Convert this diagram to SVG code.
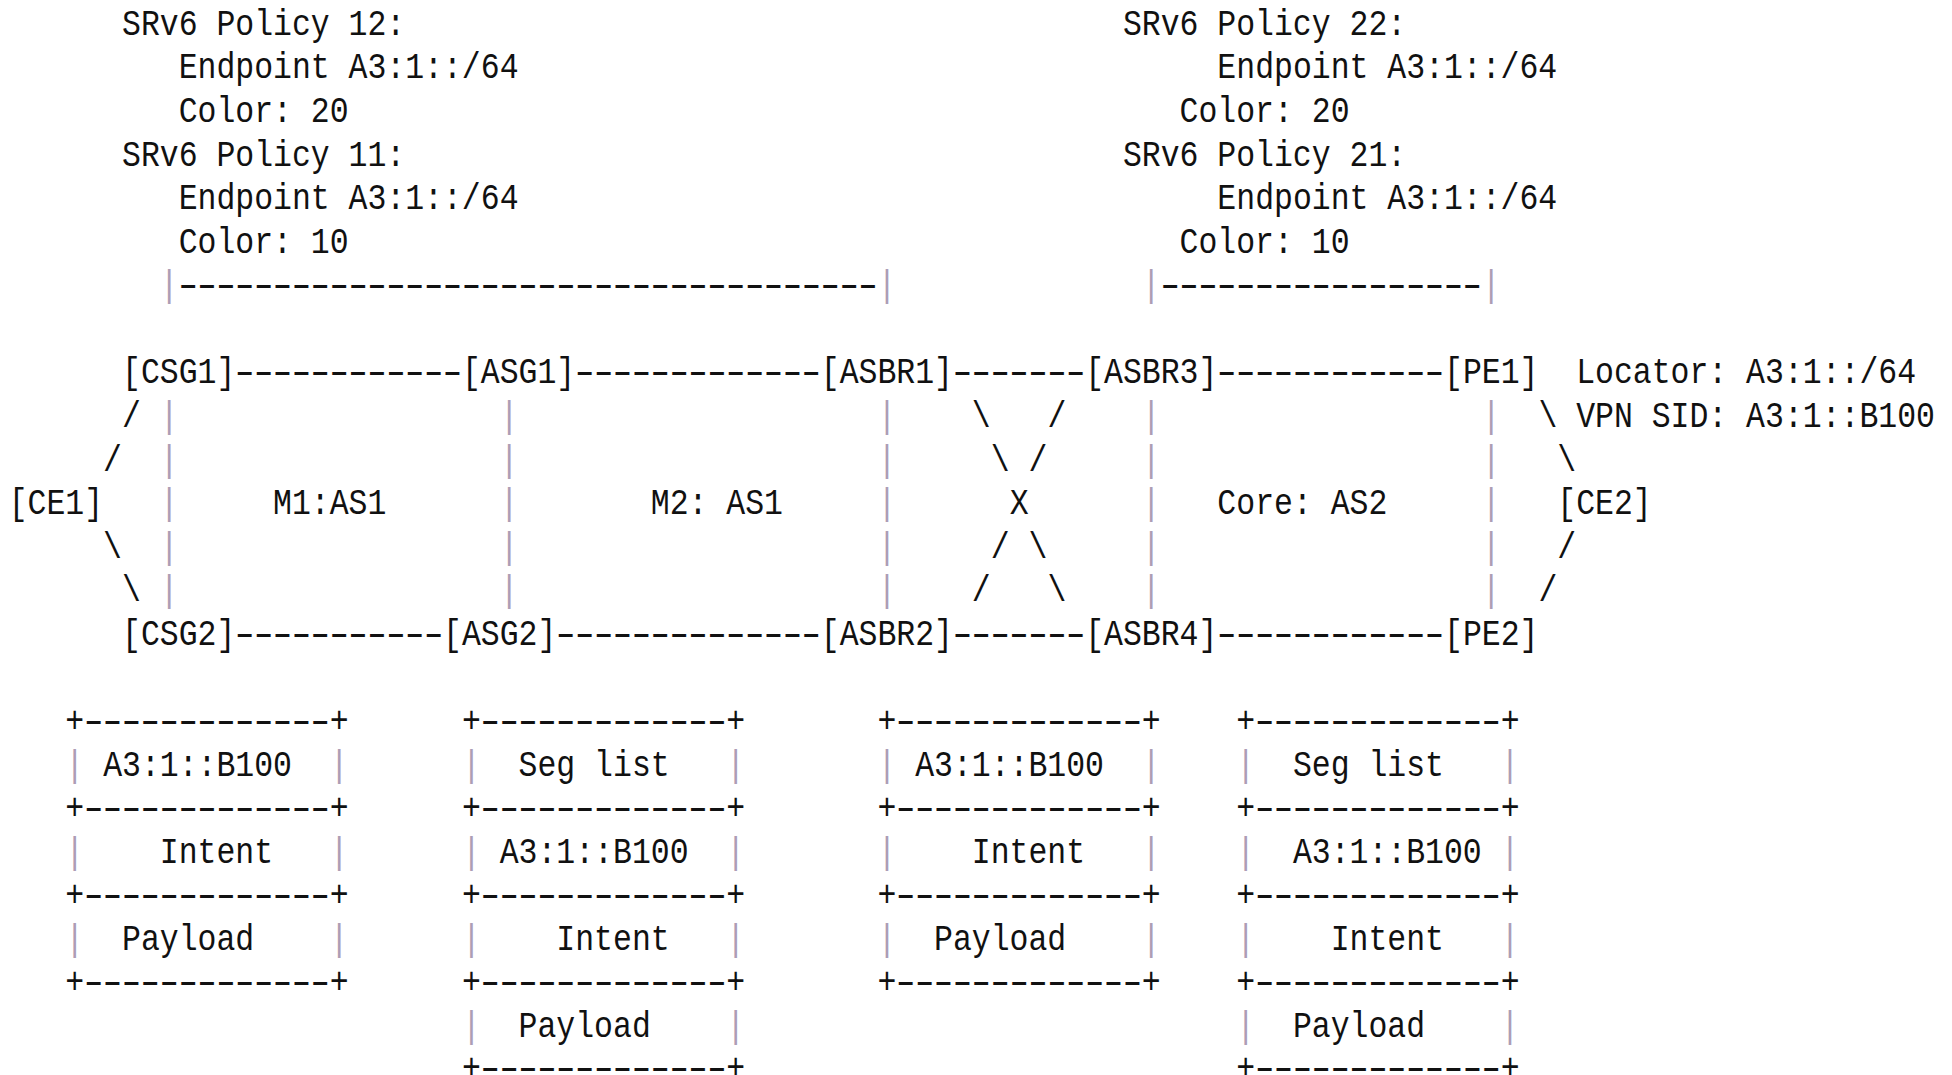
<svg xmlns="http://www.w3.org/2000/svg" width="1952" height="1075" viewBox="0 0 1952 1075">
<style>
text{font-family:"Liberation Mono","DejaVu Sans Mono",monospace;font-size:37.8px;fill:#111;white-space:pre}
.p{fill:#ad9db5}
text.d{font-family:"Liberation Sans","DejaVu Sans",sans-serif}
</style>
<defs>
<text id="pipe" class="p">|</text>
</defs>
<rect width="1952" height="1075" fill="#fff"/>
<g transform="scale(0.8327 1)">
<g id="policy-left">
<text x="146.53" y="34.9">SRv6 Policy 12:</text>
<text x="214.57" y="78.5">Endpoint A3:1::/64</text>
<text x="214.57" y="122.0">Color: 20</text>
<text x="146.53" y="165.6">SRv6 Policy 11:</text>
<text x="214.57" y="209.2">Endpoint A3:1::/64</text>
<text x="214.57" y="252.8">Color: 10</text>
<text class="p" x="191.89" y="296.3">|</text>
<text class="d" x="214.57" y="296.3" textLength="839.16" lengthAdjust="spacingAndGlyphs">-------------------------------------</text>
<text class="p" x="1053.73" y="296.3">|</text>
</g>
<g id="policy-right">
<text x="1348.57" y="34.9">SRv6 Policy 22:</text>
<text x="1461.97" y="78.5">Endpoint A3:1::/64</text>
<text x="1416.61" y="122.0">Color: 20</text>
<text x="1348.57" y="165.6">SRv6 Policy 21:</text>
<text x="1461.97" y="209.2">Endpoint A3:1::/64</text>
<text x="1416.61" y="252.8">Color: 10</text>
<text class="p" x="1371.25" y="296.3">|</text>
<text class="d" x="1393.93" y="296.3" textLength="385.56" lengthAdjust="spacingAndGlyphs">-----------------</text>
<text class="p" x="1779.49" y="296.3">|</text>
</g>
<g id="connectors">
<text class="d" x="282.61" y="383.5" textLength="272.16" lengthAdjust="spacingAndGlyphs">------------</text>
<text class="d" x="690.85" y="383.5" textLength="294.84" lengthAdjust="spacingAndGlyphs">-------------</text>
<text class="d" x="1144.45" y="383.5" textLength="158.76" lengthAdjust="spacingAndGlyphs">-------</text>
<text class="d" x="1461.97" y="383.5" textLength="272.16" lengthAdjust="spacingAndGlyphs">------------</text>
<text class="d" x="282.61" y="644.9" textLength="249.48" lengthAdjust="spacingAndGlyphs">-----------</text>
<text class="d" x="668.17" y="644.9" textLength="317.52" lengthAdjust="spacingAndGlyphs">--------------</text>
<text class="d" x="1144.45" y="644.9" textLength="158.76" lengthAdjust="spacingAndGlyphs">-------</text>
<text class="d" x="1461.97" y="644.9" textLength="272.16" lengthAdjust="spacingAndGlyphs">------------</text>
<text x="146.53" y="427.0">/</text>
<text x="123.85" y="470.6">/</text>
<text x="123.85" y="557.7">\</text>
<text x="146.53" y="601.3">\</text>
<text x="1167.13" y="427.0">\</text>
<text x="1257.85" y="427.0">/</text>
<text x="1189.81" y="470.6">\</text>
<text x="1235.17" y="470.6">/</text>
<text x="1212.49" y="514.2">X</text>
<text x="1189.81" y="557.7">/</text>
<text x="1235.17" y="557.7">\</text>
<text x="1167.13" y="601.3">/</text>
<text x="1257.85" y="601.3">\</text>
<text x="1847.53" y="427.0">\</text>
<text x="1870.21" y="470.6">\</text>
<text x="1870.21" y="557.7">/</text>
<text x="1847.53" y="601.3">/</text>
<text class="p" x="191.89" y="427.0">|</text><text class="p" x="191.89" y="470.6">|</text><text class="p" x="191.89" y="514.2">|</text><text class="p" x="191.89" y="557.7">|</text><text class="p" x="191.89" y="601.3">|</text>
<text class="p" x="600.13" y="427.0">|</text><text class="p" x="600.13" y="470.6">|</text><text class="p" x="600.13" y="514.2">|</text><text class="p" x="600.13" y="557.7">|</text><text class="p" x="600.13" y="601.3">|</text>
<text class="p" x="1053.73" y="427.0">|</text><text class="p" x="1053.73" y="470.6">|</text><text class="p" x="1053.73" y="514.2">|</text><text class="p" x="1053.73" y="557.7">|</text><text class="p" x="1053.73" y="601.3">|</text>
<text class="p" x="1371.25" y="427.0">|</text><text class="p" x="1371.25" y="470.6">|</text><text class="p" x="1371.25" y="514.2">|</text><text class="p" x="1371.25" y="557.7">|</text><text class="p" x="1371.25" y="601.3">|</text>
<text class="p" x="1779.49" y="427.0">|</text><text class="p" x="1779.49" y="470.6">|</text><text class="p" x="1779.49" y="514.2">|</text><text class="p" x="1779.49" y="557.7">|</text><text class="p" x="1779.49" y="601.3">|</text>
</g>
<g id="CE1"><text x="10.45" y="514.2">[CE1]</text></g>
<g id="CSG1"><text x="146.53" y="383.5">[CSG1]</text></g>
<g id="CSG2"><text x="146.53" y="644.9">[CSG2]</text></g>
<g id="ASG1"><text x="554.77" y="383.5">[ASG1]</text></g>
<g id="ASG2"><text x="532.09" y="644.9">[ASG2]</text></g>
<g id="ASBR1"><text x="985.69" y="383.5">[ASBR1]</text></g>
<g id="ASBR2"><text x="985.69" y="644.9">[ASBR2]</text></g>
<g id="ASBR3"><text x="1303.21" y="383.5">[ASBR3]</text></g>
<g id="ASBR4"><text x="1303.21" y="644.9">[ASBR4]</text></g>
<g id="PE1"><text x="1734.13" y="383.5">[PE1]</text></g>
<g id="PE2"><text x="1734.13" y="644.9">[PE2]</text></g>
<g id="CE2"><text x="1870.21" y="514.2">[CE2]</text></g>
<g id="pe1-info">
<text x="1892.89" y="383.5">Locator: A3:1::/64</text>
<text x="1892.89" y="427.0">VPN SID: A3:1::B100</text>
</g>
<g id="domains">
<text x="327.97" y="514.2">M1:AS1</text>
<text x="781.57" y="514.2">M2: AS1</text>
<text x="1461.97" y="514.2">Core: AS2</text>
</g>
<g id="packet-1">
<text x="78.49" y="732.0">+</text><text class="d" x="101.17" y="732.0" textLength="294.84" lengthAdjust="spacingAndGlyphs">-------------</text><text x="396.01" y="732.0">+</text>
<text x="78.49" y="775.6"><tspan class="p">|</tspan> A3:1::B100  <tspan class="p">|</tspan></text>
<text x="78.49" y="819.2">+</text><text class="d" x="101.17" y="819.2" textLength="294.84" lengthAdjust="spacingAndGlyphs">-------------</text><text x="396.01" y="819.2">+</text>
<text x="78.49" y="862.7"><tspan class="p">|</tspan>    Intent   <tspan class="p">|</tspan></text>
<text x="78.49" y="906.3">+</text><text class="d" x="101.17" y="906.3" textLength="294.84" lengthAdjust="spacingAndGlyphs">-------------</text><text x="396.01" y="906.3">+</text>
<text x="78.49" y="949.9"><tspan class="p">|</tspan>  Payload    <tspan class="p">|</tspan></text>
<text x="78.49" y="993.4">+</text><text class="d" x="101.17" y="993.4" textLength="294.84" lengthAdjust="spacingAndGlyphs">-------------</text><text x="396.01" y="993.4">+</text>
</g>
<g id="packet-2">
<text x="554.77" y="732.0">+</text><text class="d" x="577.45" y="732.0" textLength="294.84" lengthAdjust="spacingAndGlyphs">-------------</text><text x="872.29" y="732.0">+</text>
<text x="554.77" y="775.6"><tspan class="p">|</tspan>  Seg list   <tspan class="p">|</tspan></text>
<text x="554.77" y="819.2">+</text><text class="d" x="577.45" y="819.2" textLength="294.84" lengthAdjust="spacingAndGlyphs">-------------</text><text x="872.29" y="819.2">+</text>
<text x="554.77" y="862.7"><tspan class="p">|</tspan> A3:1::B100  <tspan class="p">|</tspan></text>
<text x="554.77" y="906.3">+</text><text class="d" x="577.45" y="906.3" textLength="294.84" lengthAdjust="spacingAndGlyphs">-------------</text><text x="872.29" y="906.3">+</text>
<text x="554.77" y="949.9"><tspan class="p">|</tspan>    Intent   <tspan class="p">|</tspan></text>
<text x="554.77" y="993.4">+</text><text class="d" x="577.45" y="993.4" textLength="294.84" lengthAdjust="spacingAndGlyphs">-------------</text><text x="872.29" y="993.4">+</text>
<text x="554.77" y="1037.0"><tspan class="p">|</tspan>  Payload    <tspan class="p">|</tspan></text>
<text x="554.77" y="1078.6">+</text><text class="d" x="577.45" y="1078.6" textLength="294.84" lengthAdjust="spacingAndGlyphs">-------------</text><text x="872.29" y="1078.6">+</text>
</g>
<g id="packet-3">
<text x="1053.73" y="732.0">+</text><text class="d" x="1076.41" y="732.0" textLength="294.84" lengthAdjust="spacingAndGlyphs">-------------</text><text x="1371.25" y="732.0">+</text>
<text x="1053.73" y="775.6"><tspan class="p">|</tspan> A3:1::B100  <tspan class="p">|</tspan></text>
<text x="1053.73" y="819.2">+</text><text class="d" x="1076.41" y="819.2" textLength="294.84" lengthAdjust="spacingAndGlyphs">-------------</text><text x="1371.25" y="819.2">+</text>
<text x="1053.73" y="862.7"><tspan class="p">|</tspan>    Intent   <tspan class="p">|</tspan></text>
<text x="1053.73" y="906.3">+</text><text class="d" x="1076.41" y="906.3" textLength="294.84" lengthAdjust="spacingAndGlyphs">-------------</text><text x="1371.25" y="906.3">+</text>
<text x="1053.73" y="949.9"><tspan class="p">|</tspan>  Payload    <tspan class="p">|</tspan></text>
<text x="1053.73" y="993.4">+</text><text class="d" x="1076.41" y="993.4" textLength="294.84" lengthAdjust="spacingAndGlyphs">-------------</text><text x="1371.25" y="993.4">+</text>
</g>
<g id="packet-4">
<text x="1484.65" y="732.0">+</text><text class="d" x="1507.33" y="732.0" textLength="294.84" lengthAdjust="spacingAndGlyphs">-------------</text><text x="1802.17" y="732.0">+</text>
<text x="1484.65" y="775.6"><tspan class="p">|</tspan>  Seg list   <tspan class="p">|</tspan></text>
<text x="1484.65" y="819.2">+</text><text class="d" x="1507.33" y="819.2" textLength="294.84" lengthAdjust="spacingAndGlyphs">-------------</text><text x="1802.17" y="819.2">+</text>
<text x="1484.65" y="862.7"><tspan class="p">|</tspan>  A3:1::B100 <tspan class="p">|</tspan></text>
<text x="1484.65" y="906.3">+</text><text class="d" x="1507.33" y="906.3" textLength="294.84" lengthAdjust="spacingAndGlyphs">-------------</text><text x="1802.17" y="906.3">+</text>
<text x="1484.65" y="949.9"><tspan class="p">|</tspan>    Intent   <tspan class="p">|</tspan></text>
<text x="1484.65" y="993.4">+</text><text class="d" x="1507.33" y="993.4" textLength="294.84" lengthAdjust="spacingAndGlyphs">-------------</text><text x="1802.17" y="993.4">+</text>
<text x="1484.65" y="1037.0"><tspan class="p">|</tspan>  Payload    <tspan class="p">|</tspan></text>
<text x="1484.65" y="1078.6">+</text><text class="d" x="1507.33" y="1078.6" textLength="294.84" lengthAdjust="spacingAndGlyphs">-------------</text><text x="1802.17" y="1078.6">+</text>
</g>
</g>
</svg>
